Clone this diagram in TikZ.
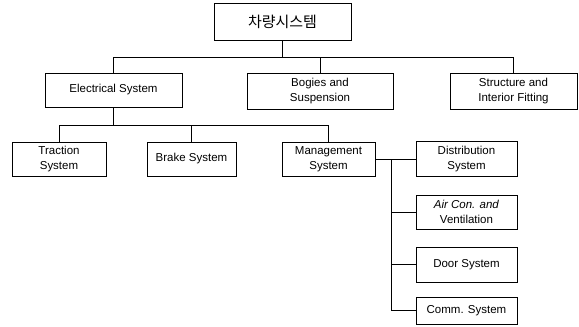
\documentclass[tikz,border=0pt]{standalone}
\usepackage{fontspec}
\setmainfont{Liberation Sans}
\newfontfamily\krfont{Noto Sans CJK KR}
\usepackage{tikz}

\tikzset{
  box/.style={draw, line width=0.7pt, rectangle, align=center, inner sep=1pt,
    font=\fontsize{11.5}{14.5}\selectfont},
  link/.style={line width=0.7pt}
}

\begin{document}
\begin{tikzpicture}[x=1pt, y=-1pt]

  \useasboundingbox (0,0) rectangle (579,327);

  % top of the tree
  \node[box, minimum width=137pt, minimum height=37pt, font=\krfont\fontsize{15}{18}\selectfont]
    (veh) at (282.5,21.5) {차량시스템};

  % first level
  \node[box, minimum width=137pt, minimum height=34pt] (elec) at (113.5,90) {Electrical System};
  \node[box, minimum width=146pt, minimum height=36pt] (bogie) at (320,91) {Bogies and\\Suspension};
  \node[box, minimum width=127pt, minimum height=36pt] (struc) at (513.5,91) {Structure and\\Interior Fitting};

  % second level
  \node[box, minimum width=94pt, minimum height=34pt] (tract) at (59,159) {Traction\\System};
  \node[box, minimum width=89pt, minimum height=34pt] (brake) at (191.5,159) {Brake System};
  \node[box, minimum width=93pt, minimum height=34pt] (mgmt) at (328.5,159) {Management\\System};

  % management branch
  \node[box, minimum width=101pt, minimum height=35pt] (distr) at (466.5,159) {Distribution\\System};
  \node[box, minimum width=101pt, minimum height=34pt] (aircon) at (466.5,212) {\textit{Air Con. and}\\Ventilation};
  \node[box, minimum width=101pt, minimum height=35pt] (door) at (466.5,264.5) {Door System};
  \node[box, minimum width=101pt, minimum height=27pt] (comm) at (466.5,310.5) {Comm. System};

  \coordinate (j1) at (282.5,57);
  \coordinate (j2) at (113.5,125);
  \coordinate (j3) at (391,159);

  \draw[link] (veh.south) -- (j1);
  \draw[link] (elec.north) -- (elec.north |- j1) -- (struc.north |- j1) -- (struc.north);
  \draw[link] (bogie.north) -- (bogie.north |- j1);

  \draw[link] (elec.south) -- (j2);
  \draw[link] (tract.north) -- (tract.north |- j2) -- (mgmt.north |- j2) -- (mgmt.north);
  \draw[link] (brake.north) -- (brake.north |- j2);

  \draw[link] (mgmt.east) -- (distr.west);
  \draw[link] (j3) |- (comm.west);
  \draw[link] (aircon.west) -- (aircon.west -| j3);
  \draw[link] (door.west) -- (door.west -| j3);

\end{tikzpicture}
\end{document}
